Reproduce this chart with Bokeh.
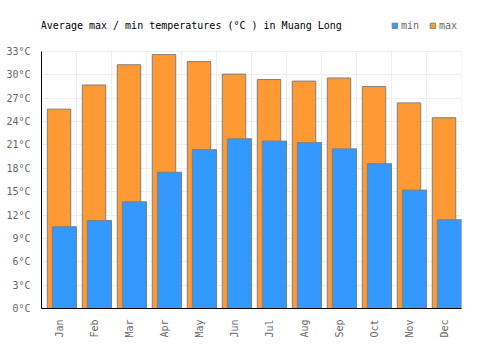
import math
from bokeh.plotting import figure
from bokeh.models import FixedTicker, PrintfTickFormatter, Legend, LegendItem, Range1d, ColumnDataSource, Label
from bokeh.embed import file_html
from bokeh.resources import INLINE

months = ["Jan", "Feb", "Mar", "Apr", "May", "Jun", "Jul", "Aug", "Sep", "Oct", "Nov", "Dec"]
t_max = [25.6, 28.7, 31.3, 32.6, 31.7, 30.1, 29.4, 29.2, 29.6, 28.5, 26.4, 24.5]
t_min = [10.5, 11.3, 13.7, 17.5, 20.4, 21.8, 21.5, 21.3, 20.5, 18.6, 15.2, 11.4]
y_ticks = list(range(0, 34, 3))
title_text = "Average max / min temperatures (°C ) in Muang Long"

FONT = "DejaVu Sans Mono"
idx = list(range(len(months)))
Y_TOP = 33
PX_PER = 257 / 33.0
Y_END = Y_TOP + 37 / PX_PER   # extra room above the plot for title / legend

p = figure(width=500, height=350, output_backend="svg", toolbar_location=None,
           x_range=Range1d(0, 12), y_range=Range1d(0, Y_END), title=None,
           min_border_left=41, min_border_right=39, min_border_top=14, min_border_bottom=42)
p.outline_line_color = None

# vertical grid lines at category boundaries (limited to the data area)
bounds = list(range(len(months) + 1))
p.segment(x0=bounds, y0=[0] * len(bounds), x1=bounds, y1=[Y_TOP] * len(bounds),
          line_color="#eeeeee", line_width=1)

src_max = ColumnDataSource(dict(x=[i + 0.5 for i in idx], top=t_max))
src_min = ColumnDataSource(dict(x=[i + 0.655 for i in idx], top=t_min))
r_max = p.vbar(x="x", top="top", bottom=0, width=0.67, source=src_max,
               fill_color="#FF9933", line_color="#808080", line_width=1)
r_min = p.vbar(x="x", top="top", bottom=0, width=0.69, source=src_min,
               fill_color="#3399FF", line_color="#808080", line_width=1)

p.xaxis.ticker = FixedTicker(ticks=[i + 0.5 for i in idx])
p.xaxis.major_label_overrides = {i + 0.5: m for i, m in zip(idx, months)}
p.xaxis.major_label_orientation = math.pi / 2
p.yaxis.ticker = FixedTicker(ticks=y_ticks)
p.yaxis.formatter = PrintfTickFormatter(format="%d°C")
p.yaxis.bounds = (0, Y_TOP)
for ax in (p.xaxis[0], p.yaxis[0]):
    ax.major_tick_line_color = None
    ax.minor_tick_line_color = None
    ax.axis_line_color = "#000000"
    ax.axis_line_width = 1
    ax.major_label_text_font = FONT
    ax.major_label_text_font_size = "10px"
    ax.major_label_text_color = "#666666"
    ax.major_label_standoff = 5

p.xgrid.visible = False
p.ygrid.ticker = FixedTicker(ticks=y_ticks)
p.ygrid.grid_line_color = "#eeeeee"

title = Label(x=-0.02, y=Y_END - 11 / PX_PER, text=title_text, text_font=FONT,
              text_font_size="10px", text_color="#000000", text_baseline="middle",
              text_align="left")
p.add_layout(title)

legend = Legend(items=[LegendItem(label="min", renderers=[r_min]),
                       LegendItem(label="max", renderers=[r_max])],
                orientation="horizontal", location=(350, 277),
                label_text_font=FONT, label_text_font_size="10px", label_text_color="#666666",
                glyph_width=7, glyph_height=7, padding=0, margin=0, spacing=8,
                label_standoff=3, background_fill_alpha=0, border_line_color=None,
                label_height=10)
p.add_layout(legend, "center")

open("out.html", "w").write(file_html(p, INLINE))
